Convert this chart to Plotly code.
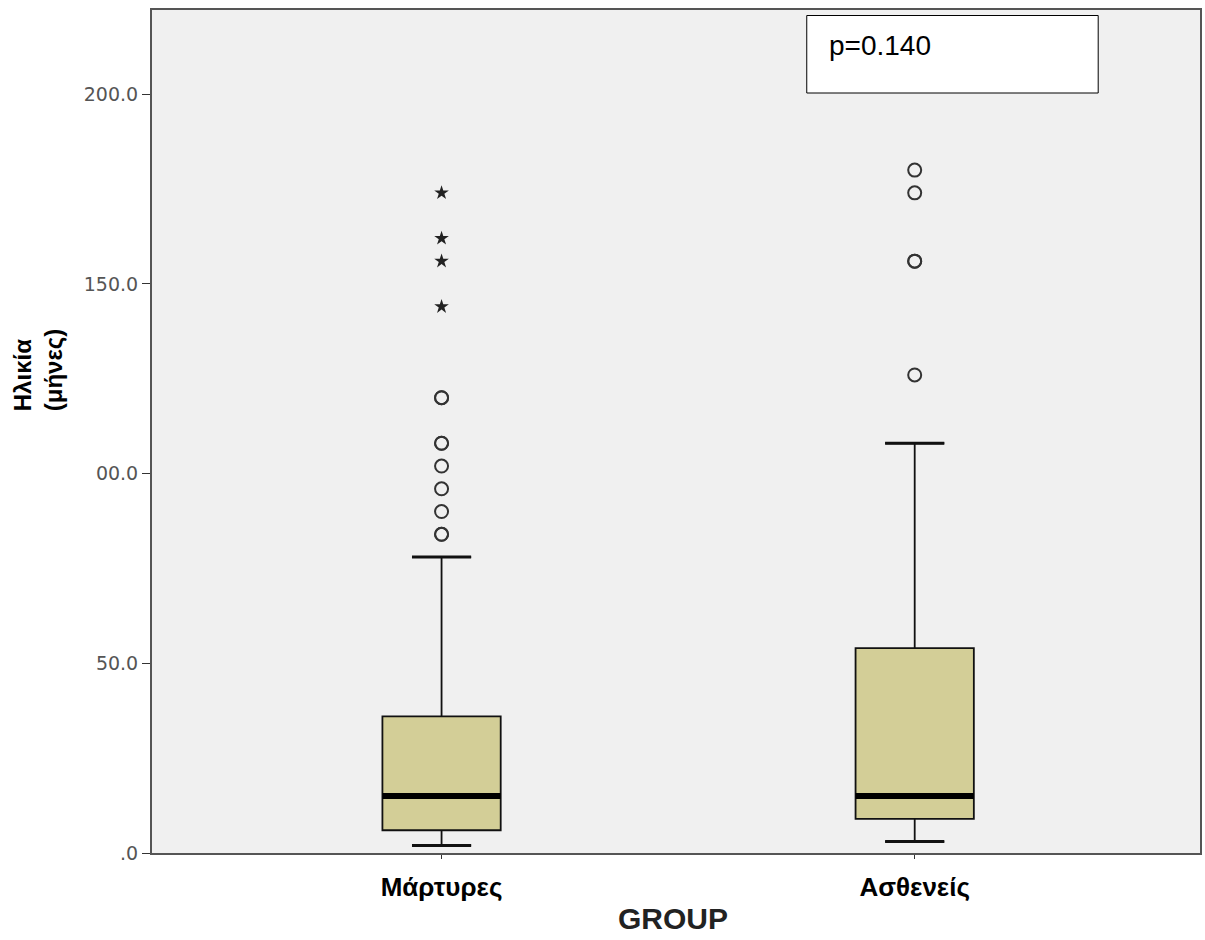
import plotly.graph_objects as go

# ---- data ----
categories = ["Μάρτυρες", "Ασθενείς"]
q1 = [6, 9]
median = [15, 15]
q3 = [36, 54]
lower_whisker = [2, 3]
upper_whisker = [78, 108]
outliers_circle = [
    [84, 84, 90, 96, 102, 108, 108, 120, 120],
    [126, 156, 156, 174, 180],
]
outliers_star = [
    [144, 156, 162, 174],
    [],
]
y_tickvals = [0, 50, 100, 150, 200]
y_ticktext = [".0", "50.0", "00.0", "150.0", "200.0"]
p_text = "p=0.140"

# ---- styles ----
BOX_W = 0.25
FILL = "#D3CE97"
W, H = 1205, 940
L, R, T, B = 152, 3, 10, 87
PW, PH = W - L - R, H - T - B


def px_x(px):
    return (px - L) / PW


def px_y(py):
    return (H - B - py) / PH


fig = go.Figure()

for i, cat in enumerate(categories):
    fig.add_trace(go.Box(
        x=[i], q1=[q1[i]], median=[median[i]], q3=[q3[i]],
        lowerfence=[lower_whisker[i]], upperfence=[upper_whisker[i]],
        width=BOX_W, whiskerwidth=0.5, fillcolor=FILL,
        line=dict(color="#111111", width=1.8), boxpoints=False,
        showlegend=False, hoverinfo="skip", name=cat,
    ))
    # thick median
    fig.add_trace(go.Scatter(
        x=[i - BOX_W / 2, i + BOX_W / 2], y=[median[i], median[i]],
        mode="lines", line=dict(color="black", width=6),
        showlegend=False, hoverinfo="skip",
    ))
    # thicker whisker caps
    for wv in (lower_whisker[i], upper_whisker[i]):
        fig.add_trace(go.Scatter(
            x=[i - BOX_W / 4, i + BOX_W / 4], y=[wv, wv],
            mode="lines", line=dict(color="#111111", width=3),
            showlegend=False, hoverinfo="skip",
        ))
    if outliers_circle[i]:
        fig.add_trace(go.Scatter(
            x=[i] * len(outliers_circle[i]), y=outliers_circle[i],
            mode="markers",
            marker=dict(symbol="circle-open", size=13, color="#333333",
                        line=dict(width=2, color="#333333")),
            showlegend=False, hoverinfo="skip",
        ))
    if outliers_star[i]:
        fig.add_trace(go.Scatter(
            x=[i] * len(outliers_star[i]), y=outliers_star[i],
            mode="markers",
            marker=dict(symbol="star", size=11, color="#222222"),
            showlegend=False, hoverinfo="skip",
        ))

fig.update_layout(
    width=W, height=H,
    margin=dict(l=L, r=R, t=T, b=B),
    paper_bgcolor="white",
    plot_bgcolor="#F0F0F0",
    xaxis=dict(
        range=[-0.612, 1.603], tickvals=[0, 1], ticktext=categories,
        tickfont=dict(family="Liberation Sans, Arial", size=26, color="black",
                      weight="bold"),
        ticks="outside", ticklen=4, tickcolor="#333",
        ticklabelstandoff=6,
        showline=True, linecolor="#555", linewidth=2, mirror=True,
        showgrid=False, zeroline=False,
    ),
    yaxis=dict(
        range=[0, 222.2], tickvals=y_tickvals, ticktext=y_ticktext,
        tickfont=dict(family="DejaVu Sans", size=19, color="#555"),
        ticks="outside", ticklen=8, tickcolor="#333",
        showline=True, linecolor="#555", linewidth=2, mirror=True,
        showgrid=False, zeroline=False,
    ),
    font=dict(family="Liberation Sans, Arial"),
)

# x-axis title
fig.add_annotation(
    text="<b>GROUP</b>", xref="paper", yref="paper",
    x=px_x(674), y=px_y(918), xanchor="center", yanchor="middle",
    showarrow=False,
    font=dict(family="Liberation Sans, Arial", size=30, color="#222"),
)

# y-axis title as annotation (two lines, rotated)
fig.add_annotation(
    text="<b>Ηλικία<br>(μήνες)</b>", textangle=-90, align="left",
    xref="paper", yref="paper", x=px_x(38), y=px_y(370),
    xanchor="center", yanchor="middle", showarrow=False,
    font=dict(family="Liberation Sans Narrow, Liberation Sans, Arial", size=24, color="black"),
)

# p-value box
fig.add_shape(
    type="rect", xref="paper", yref="paper",
    x0=px_x(808), x1=px_x(1100), y0=px_y(93), y1=px_y(15.5),
    fillcolor="white", line=dict(color="black", width=1),
)
fig.add_annotation(
    text=p_text, xref="paper", yref="paper",
    x=px_x(828), y=px_y(46), xanchor="left", yanchor="middle",
    showarrow=False,
    font=dict(family="Liberation Sans, Arial", size=28, color="black"),
)

fig.write_html("out.html")
